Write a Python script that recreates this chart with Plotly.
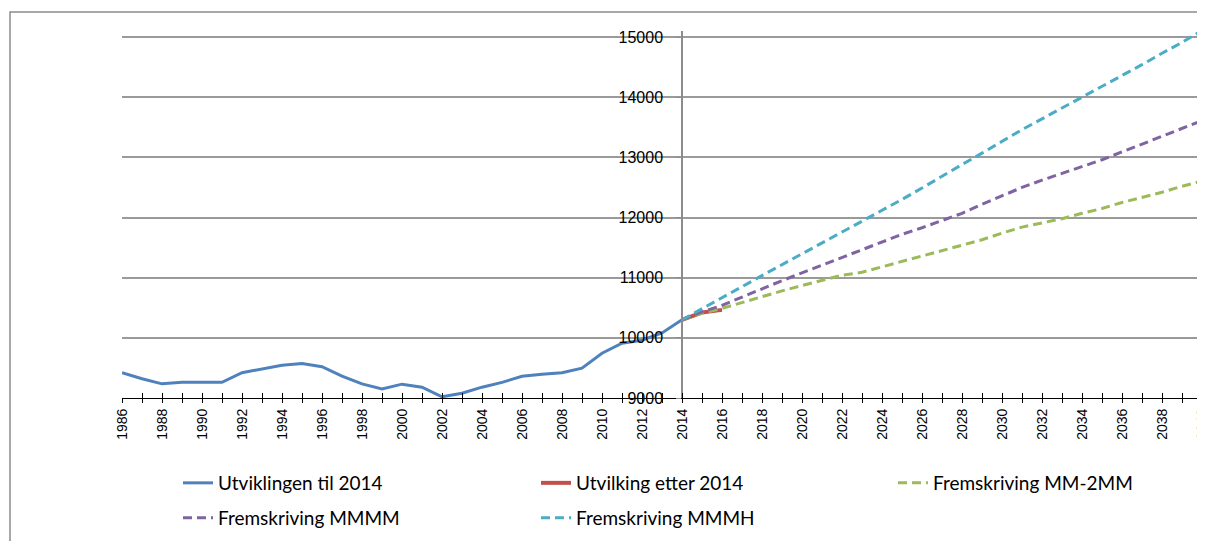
import plotly.graph_objects as go

# ---------------- data ----------------
years_hist = list(range(1986, 2015))
utvikling_til_2014 = [9420, 9320, 9235, 9260, 9260, 9260, 9420, 9480, 9545, 9575,
                      9520, 9365, 9235, 9150, 9230, 9180, 9020, 9080, 9180, 9260,
                      9360, 9395, 9420, 9495, 9745, 9910, 9960, 10080, 10300]

years_after = [2014, 2015, 2016]
utvikling_etter_2014 = [10300, 10420, 10465]

years_proj = list(range(2014, 2041))
mm_2mm = [10300, 10410, 10490, 10590, 10680, 10780, 10870, 10960, 11040, 11090,
          11180, 11260, 11350, 11440, 11530, 11630, 11740, 11840, 11910, 11980,
          12070, 12150, 12250, 12330, 12420, 12520, 12605]
mmmm = [10300, 10430, 10540, 10680, 10820, 10950, 11080, 11210, 11340, 11460,
        11590, 11720, 11830, 11950, 12070, 12220, 12360, 12500, 12620, 12730,
        12850, 12960, 13090, 13220, 13350, 13480, 13610]
mmmh = [10300, 10480, 10660, 10850, 11035, 11215, 11390, 11570, 11750, 11930,
        12110, 12300, 12490, 12690, 12880, 13070, 13270, 13460, 13640, 13820,
        13990, 14170, 14350, 14540, 14730, 14910, 15110]

names = ["Utviklingen til 2014", "Utvilking etter 2014", "Fremskriving MM-2MM",
         "Fremskriving MMMM", "Fremskriving MMMH"]
colors = ["#4F81BD", "#C0504D", "#9BBB59", "#8064A2", "#4BACC6"]

x_ticks = list(range(1986, 2041))
x_ticktext = [str(y) if y % 2 == 0 else "" for y in x_ticks]
y_ticks = [9000, 10000, 11000, 12000, 13000, 14000, 15000]
y_ticktext = [str(v) for v in y_ticks]

# ---------------- layout constants ----------------
OFF = 8                      # default page body margin
W, H = 1205 - OFF, 541 - OFF
L, R, T = 122 - OFF, 3, 31 - OFF
plot_bottom = 398 - OFF
B = H - plot_bottom
plot_w = W - L - R
plot_h = plot_bottom - T
x_cross = 2014
x_min, x_max = 1986, 2040
y_min, y_max = 9000, 15100
yaxis_pos = (x_cross - x_min) / (x_max - x_min)


def px_x(xv):  # viewport x -> paper x
    return (xv - OFF - L) / plot_w


def px_y(yv):  # viewport y -> paper y
    return (plot_bottom - (yv - OFF)) / plot_h


fig = go.Figure()
dash = "9px,5px"

fig.add_trace(go.Scatter(x=years_hist, y=utvikling_til_2014, mode="lines", name=names[0],
                         line=dict(color=colors[0], width=3), legend="legend"))
fig.add_trace(go.Scatter(x=years_after, y=utvikling_etter_2014, mode="lines", name=names[1],
                         line=dict(color=colors[1], width=4), legend="legend"))
fig.add_trace(go.Scatter(x=years_proj, y=mm_2mm, mode="lines", name=names[2],
                         line=dict(color=colors[2], width=3, dash=dash), legend="legend3"))
fig.add_trace(go.Scatter(x=years_proj, y=mmmm, mode="lines", name=names[3],
                         line=dict(color=colors[3], width=3, dash=dash), legend="legend2"))
fig.add_trace(go.Scatter(x=years_proj, y=mmmh, mode="lines", name=names[4],
                         line=dict(color=colors[4], width=3, dash=dash), legend="legend2"))
# invisible helper trace to activate the overlay axis (inner half of crossing ticks)
fig.add_trace(go.Scatter(x=[years_hist[0]], y=[utvikling_til_2014[0]], xaxis="x2",
                         mode="lines", showlegend=False, hoverinfo="skip",
                         line=dict(width=0)))

leg_font = dict(family="Lato, sans-serif", size=19, color="black")
text_off = 41   # legend left edge -> text start (px)
col_w = 357     # column spacing in px
entry_w = col_w - 44

fig.update_layout(
    width=W, height=H,
    margin=dict(l=L, r=R, t=T, b=B, autoexpand=False),
    paper_bgcolor="white", plot_bgcolor="white",
    xaxis=dict(range=[x_min, x_max], tickmode="array", tickvals=x_ticks, ticktext=x_ticktext,
               tickangle=-90, ticks="outside", ticklen=4, tickcolor="black", tickwidth=1,
               showline=True, linecolor="black", linewidth=1, showgrid=False, zeroline=False,
               ticklabeloverflow="allow",
               tickfont=dict(family="Liberation Sans, Arial, sans-serif", size=14, color="black"),
               anchor="y"),
    xaxis2=dict(range=[x_min, x_max], overlaying="x", anchor="y", side="bottom",
                tickmode="array", tickvals=x_ticks, ticktext=["" for _ in x_ticks],
                ticks="inside", ticklen=5, tickcolor="black", tickwidth=1,
                showline=False, showgrid=False, zeroline=False, showticklabels=False),
    yaxis=dict(range=[y_min, y_max], tickmode="array", tickvals=y_ticks, ticktext=y_ticktext,
               ticks="outside", ticklen=5, tickcolor="#8c8c8c",
               showline=True, linecolor="#8c8c8c", linewidth=1.5,
               showgrid=True, gridcolor="#9a9a9a", gridwidth=1.5, zeroline=False,
               anchor="free", position=yaxis_pos, ticklabelstandoff=10,
               tickfont=dict(family="Liberation Sans, Arial, sans-serif", size=16, color="black")),
    legend=dict(orientation="h", x=px_x(219 - text_off), xanchor="left", y=px_y(483),
                yanchor="middle", entrywidth=entry_w, entrywidthmode="pixels",
                font=leg_font, bgcolor="rgba(0,0,0,0)", traceorder="normal"),
    legend2=dict(orientation="h", x=px_x(219 - text_off), xanchor="left", y=px_y(518),
                 yanchor="middle", entrywidth=entry_w, entrywidthmode="pixels",
                 font=leg_font, bgcolor="rgba(0,0,0,0)", traceorder="normal"),
    legend3=dict(orientation="h", x=px_x(934 - text_off), xanchor="left", y=px_y(483),
                 yanchor="middle", font=leg_font, bgcolor="rgba(0,0,0,0)"),
    showlegend=True,
)

# outer chart border
fig.add_shape(type="rect", xref="paper", yref="paper",
              x0=px_x(10), x1=px_x(1215),
              y0=px_y(560), y1=px_y(12),
              line=dict(color="#8c8c8c", width=1.5), fillcolor="rgba(0,0,0,0)", layer="below")

fig.write_html("out.html")
